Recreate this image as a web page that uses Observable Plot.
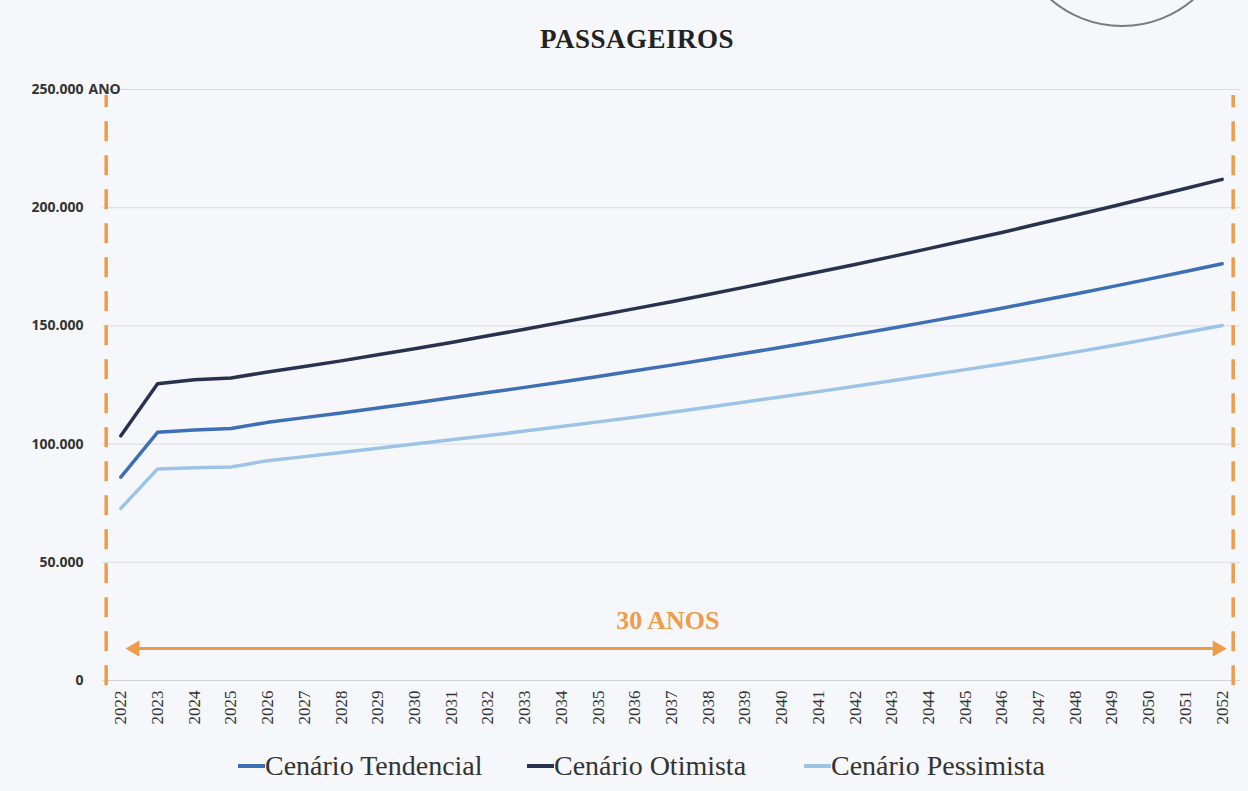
<!DOCTYPE html>
<html>
<head>
<meta charset="utf-8">
<script src="https://cdn.jsdelivr.net/npm/d3@7"></script>
<script src="https://cdn.jsdelivr.net/npm/@observablehq/plot@0.6"></script>
<style>
  html, body { margin: 0; padding: 0; background: #f6f7fa; }
  body { width: 1248px; height: 791px; position: relative; overflow: hidden; font-family: "Liberation Serif", serif; }
  #title { height: 60px; line-height: 78px; text-align: center; font-weight: bold; font-size: 27px; letter-spacing: 0.5px; color: #222; padding-left: 26px; }
  #stamp { position: absolute; left: 1012px; top: -193px; width: 216px; height: 216px; border: 2px solid #7a7a7a; border-radius: 50%; }
  #chart { position: absolute; left: 0; top: 60px; }
  #legend { position: absolute; left: 0; top: 748px; width: 1248px; height: 36px; font-size: 28px; color: #333; white-space: nowrap; }
  .item { position: absolute; top: 0; display: flex; align-items: center; height: 36px; }
  .sw { width: 27px; height: 4px; }
</style>
</head>
<body>
<div id="stamp"></div>
<div id="title">PASSAGEIROS</div>
<div id="chart"></div>
<div id="legend"></div>
<script>
// ---- data (values in thousands of passengers) ----
const years = [2022, 2023, 2024, 2025, 2026, 2027, 2028, 2029, 2030, 2031, 2032, 2033, 2034, 2035, 2036, 2037,
               2038, 2039, 2040, 2041, 2042, 2043, 2044, 2045, 2046, 2047, 2048, 2049, 2050, 2051, 2052];
const seriesNames = ["Cenário Tendencial", "Cenário Otimista", "Cenário Pessimista"];
const tendencial = [86.0, 105.0, 106.0, 106.6, 109.2, 111.2, 113.2, 115.3, 117.4, 119.6, 121.8, 124.0, 126.3, 128.6, 131.0, 133.4,
                    135.9, 138.4, 141.0, 143.6, 146.3, 149.0, 151.8, 154.6, 157.5, 160.5, 163.5, 166.6, 169.8, 173.0, 176.3];
const otimista = [103.5, 125.5, 127.2, 128.0, 130.5, 132.8, 135.2, 137.8, 140.3, 143.0, 145.8, 148.6, 151.5, 154.4, 157.3, 160.2,
                  163.3, 166.4, 169.6, 172.8, 176.0, 179.3, 182.7, 186.1, 189.5, 193.2, 196.8, 200.5, 204.3, 208.1, 212.0];
const pessimista = [72.8, 89.5, 90.0, 90.3, 93.0, 94.7, 96.4, 98.2, 100.0, 101.8, 103.6, 105.5, 107.4, 109.4, 111.4, 113.5,
                    115.6, 117.8, 120.0, 122.2, 124.5, 126.8, 129.1, 131.5, 133.9, 136.3, 138.9, 141.6, 144.4, 147.3, 150.2];
const yTicks = [0, 50000, 100000, 150000, 200000, 250000];
const yUnitLabel = ["ANO"];
const periodLabel = ["30 ANOS"];
const periodBounds = [2021.6, 2052.3];   // dashed markers of the 30-year horizon
const arrowSpan = {from: 2022.2, to: 2052.05, level: 13500};
const periodLabelPos = {year: 2036.9, level: 25500};

const colors = {"Cenário Tendencial": "#3e6fb6", "Cenário Otimista": "#28324f", "Cenário Pessimista": "#9cc3e8"};
const orange = "#ee9c4a";

const valuesBySeries = [tendencial, otimista, pessimista];
const table = seriesNames.flatMap((name, s) => years.map((yr, i) => ({year: yr, value: valuesBySeries[s][i] * 1000, series: name})));

const fmt = d3.formatLocale({decimal: ",", thousands: ".", grouping: [3], currency: ["R$", ""]}).format(",d");

const chart = Plot.plot({
  width: 1248,
  height: 688,
  marginLeft: 102,
  marginRight: 8,
  marginTop: 29,
  marginBottom: 68,
  style: {background: "transparent", overflow: "visible"},
  x: {type: "linear", domain: [2021.5, 2052.5], axis: null},
  y: {domain: [0, 250000], axis: null},
  color: {domain: seriesNames, range: seriesNames.map(n => colors[n])},
  marks: [
    Plot.gridY(yTicks.slice(1), {stroke: "#d9dbe0", strokeOpacity: 1, strokeWidth: 1}),
    Plot.ruleY([0], {stroke: "#cfd2d8", strokeWidth: 1}),
    Plot.axisY(yTicks, {label: null, tickSize: 0, tickPadding: 19, tickFormat: fmt, fontSize: 14, fontWeight: 700,
                        fontFamily: "Open Sans", fill: "#333"}),
    Plot.text(yUnitLabel, {x: 2021.5, y: 250000, text: d => d, textAnchor: "start", dx: -14, fontSize: 14,
                           fontWeight: 700, fontFamily: "Open Sans", fill: "#333"}),
    Plot.axisX(years, {label: null, tickRotate: -90, tickSize: 0, tickPadding: 10, tickFormat: d => String(d), fontSize: 17,
                       fontFamily: "Liberation Serif", fill: "#333"}),
    Plot.ruleX(periodBounds, {y1: -2200, y2: 247500, stroke: orange, strokeWidth: 3.5, strokeDasharray: "20,14"}),
    Plot.ruleY([arrowSpan.level], {x1: arrowSpan.from + 0.25, x2: arrowSpan.to - 0.25, stroke: orange, strokeWidth: 3}),
    Plot.dot([arrowSpan.from + 0.18], {x: d => d, y: arrowSpan.level, symbol: "triangle", rotate: -90, r: 6, fill: orange, stroke: "none"}),
    Plot.dot([arrowSpan.to - 0.18], {x: d => d, y: arrowSpan.level, symbol: "triangle", rotate: 90, r: 6, fill: orange, stroke: "none"}),
    Plot.text(periodLabel, {x: periodLabelPos.year, y: periodLabelPos.level, text: d => d, fontSize: 26, fontWeight: "bold",
                            fontFamily: "Liberation Serif", fill: orange, letterSpacing: "1px"}),
    Plot.line(table, {x: "year", y: "value", z: "series", stroke: "series", strokeWidth: 3.5, curve: "linear",
                      strokeLinecap: "round", strokeLinejoin: "round"})
  ]
});
document.getElementById("chart").appendChild(chart);

const legend = document.getElementById("legend");
const legendLeft = [238, 527, 804];
seriesNames.forEach((n, i) => {
  const item = document.createElement("div");
  item.className = "item";
  item.style.left = legendLeft[i] + "px";
  const sw = document.createElement("span");
  sw.className = "sw";
  sw.style.background = colors[n];
  const t = document.createElement("span");
  t.textContent = n;
  item.appendChild(sw);
  item.appendChild(t);
  legend.appendChild(item);
});
</script>
</body>
</html>
